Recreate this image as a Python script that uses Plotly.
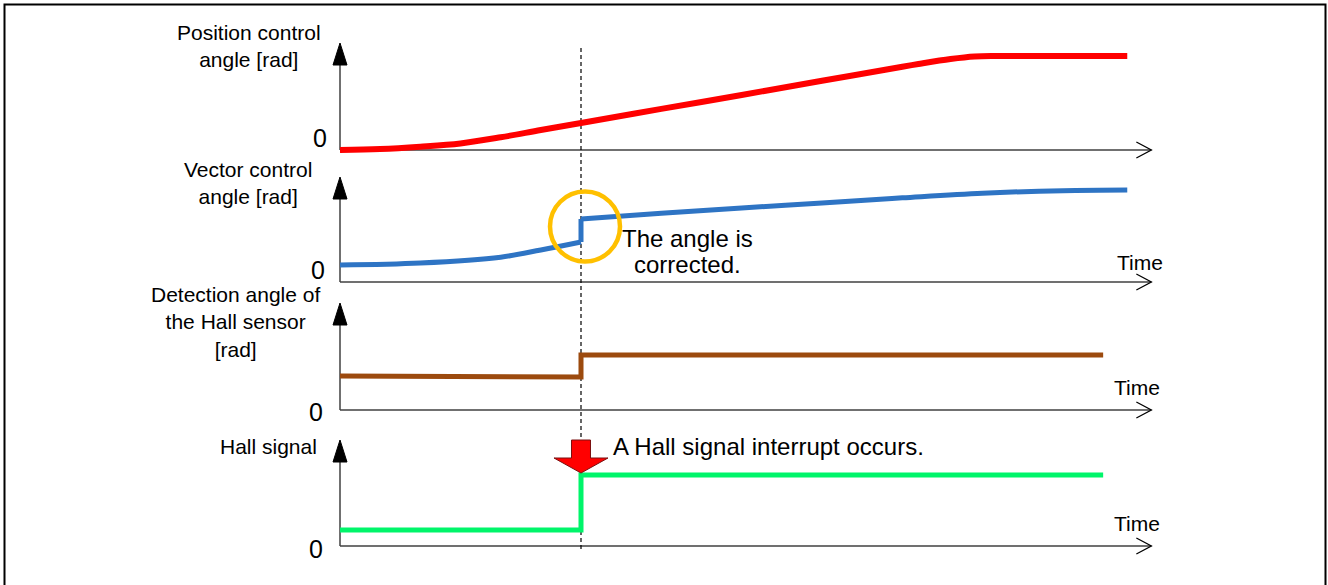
import plotly.graph_objects as go

# ---------------- data ----------------
# Position control angle (normalised to its final value)
time_pos = [0, 0.5, 1, 1.5, 2, 2.5, 3, 4, 5, 6, 7, 7.2, 7.6, 7.9, 8.2, 9.8]
angle_pos = [0, 0.01, 0.035, 0.07, 0.135, 0.212, 0.287, 0.437, 0.586, 0.736, 0.886,
             0.915, 0.968, 0.995, 1.0, 1.0]

# Vector control angle: corrected (step) at the Hall interrupt, t = 3
time_vec = [0, 1, 2, 2.5, 3, 3, 4, 5, 6, 7, 8, 9, 9.8]
angle_vec = [0.185, 0.207, 0.27, 0.348, 0.435, 0.685, 0.747, 0.805, 0.86, 0.915, 0.965,
             0.993, 1.0]

# Detection angle of the Hall sensor
time_hall_ang = [0, 3, 3, 9.5]
angle_hall = [0.62, 0.60, 1.0, 1.0]

# Hall signal level
time_hall_sig = [0, 3, 3, 9.5]
hall_signal = [0.225, 0.225, 1.0, 1.0]

event_time = 3.0
axis_end_time = 10.1

# ---------------- layout geometry (pixels) ----------------
W, H = 1328, 585
X0_PX = 340.0          # pixel of t = 0
PX_PER_T = 80.333      # pixels per time unit

# per panel: baseline pixel, pixels per value unit, top of y-axis arrow
panels = [
    dict(base=150, ppu=94, top=43),
    dict(base=282, ppu=92, top=177),
    dict(base=410, ppu=55, top=303),
    dict(base=546, ppu=71, top=440),
]

FONT = "Arial, 'Liberation Sans', sans-serif"
AXIS_COL = "#404040"


def px(x):
    return x / W


def py(y):
    return 1 - y / H


def t_of(xpx):
    return (xpx - X0_PX) / PX_PER_T


fig = go.Figure()


def add_line(t, v, yname, col, w, shape="linear"):
    fig.add_trace(go.Scatter(
        x=t, y=v, mode="lines", yaxis=yname,
        line=dict(color=col, width=w, shape=shape, smoothing=1.0),
        hoverinfo="skip", showlegend=False,
    ))


# smooth position angle
add_line(time_pos, angle_pos, "y", "#FF0000", 6, "spline")

# vector angle: smooth before and after the correction, straight step at the event
j = next(i for i in range(1, len(time_vec)) if time_vec[i] == time_vec[i - 1])
add_line(time_vec[:j], angle_vec[:j], "y2", "#2E74C4", 5, "spline")
add_line(time_vec[j - 1:j + 1], angle_vec[j - 1:j + 1], "y2", "#2E74C4", 5)
add_line(time_vec[j:], angle_vec[j:], "y2", "#2E74C4", 5, "spline")

add_line(time_hall_ang, angle_hall, "y3", "#9C4A0E", 5)
add_line(time_hall_sig, hall_signal, "y4", "#00F56A", 5)

layout_axes = {}
for i, p in enumerate(panels):
    key = "yaxis" if i == 0 else f"yaxis{i + 1}"
    ax = dict(
        range=[-(H - p["base"]) / p["ppu"], p["base"] / p["ppu"]],
        domain=[0, 1], visible=False, fixedrange=True,
    )
    if i > 0:
        ax["overlaying"] = "y"
    layout_axes[key] = ax

shapes = []
annotations = []

# axes with arrows for every panel
for p in panels:
    b, top = p["base"], p["top"]
    # vertical axis
    shapes.append(dict(type="line", xref="paper", yref="paper",
                       x0=px(X0_PX), x1=px(X0_PX), y0=py(b), y1=py(top + 20),
                       line=dict(color=AXIS_COL, width=1.5), layer="below"))
    # filled arrow head on vertical axis
    shapes.append(dict(type="path", xref="paper", yref="paper",
                       path=(f"M {px(X0_PX - 7)} {py(top + 22)} L {px(X0_PX + 7)} {py(top + 22)} "
                             f"L {px(X0_PX)} {py(top)} Z"),
                       fillcolor="black", line=dict(color="black", width=1), layer="below"))
    # horizontal time axis
    end_px = X0_PX + axis_end_time * PX_PER_T
    shapes.append(dict(type="line", xref="paper", yref="paper",
                       x0=px(X0_PX), x1=px(end_px), y0=py(b), y1=py(b),
                       line=dict(color=AXIS_COL, width=1.5), layer="below"))
    # open arrow head on time axis
    shapes.append(dict(type="path", xref="paper", yref="paper",
                       path=(f"M {px(end_px - 15)} {py(b - 8)} L {px(end_px)} {py(b)} "
                             f"L {px(end_px - 15)} {py(b + 8)}"),
                       line=dict(color="black", width=1.3), layer="below"))

# dashed event marker
shapes.append(dict(type="line", xref="x", yref="paper",
                   x0=event_time, x1=event_time, y0=py(48), y1=py(552),
                   line=dict(color="black", width=1.2, dash="4px,3px"), layer="below"))

# highlight circle around the angle correction
cx, cy, r = 585, 226.5, 35
shapes.append(dict(type="circle", xref="paper", yref="paper",
                   x0=px(cx - r), x1=px(cx + r), y0=py(cy + r), y1=py(cy - r),
                   line=dict(color="#FFC000", width=4.5), layer="above"))

# red down arrow marking the Hall interrupt
ax_c = X0_PX + event_time * PX_PER_T
arrow_pts = [(ax_c - 9.5, 440), (ax_c + 9.5, 440), (ax_c + 9.5, 458), (ax_c + 27, 458),
             (ax_c, 473), (ax_c - 27, 458), (ax_c - 9.5, 458)]
path = "M " + " L ".join(f"{px(x)} {py(y)}" for x, y in arrow_pts) + " Z"
shapes.append(dict(type="path", xref="paper", yref="paper", path=path,
                   fillcolor="#FF0000", line=dict(color="#7A1010", width=1), layer="above"))

# outer frame
shapes.append(dict(type="rect", xref="paper", yref="paper",
                   x0=px(4.5), x1=px(1325.5), y0=py(600), y1=py(4.5),
                   line=dict(color="black", width=2), layer="above"))


def note(text, x, y, size, xanchor="center", yanchor="middle", align="center"):
    annotations.append(dict(text=text, xref="paper", yref="paper", x=px(x), y=py(y),
                            xanchor=xanchor, yanchor=yanchor, align=align, showarrow=False,
                            font=dict(family=FONT, size=size, color="black")))


note("Position control<br>angle [rad]", 249, 46.5, 21)
note("Vector control<br>angle [rad]", 248, 183, 21)
note("Detection angle of<br>the Hall sensor<br>[rad]", 235, 321.5, 21)
note("Hall signal", 319, 447, 21, xanchor="right")

for (x, y) in [(320, 138), (318, 270), (316, 412), (316, 549)]:
    note("0", x, y, 25)

for (x, y) in [(1115, 262), (1112, 387), (1112, 523)]:
    note("Time", x, y, 21, xanchor="left")

note("The angle is", 687, 238, 24)
note("corrected.", 687, 265, 24)
note("A Hall signal interrupt occurs.", 611, 446, 24, xanchor="left")

fig.update_layout(
    width=W, height=H,
    margin=dict(l=0, r=0, t=0, b=0),
    paper_bgcolor="white", plot_bgcolor="white",
    xaxis=dict(range=[t_of(0), t_of(W)], domain=[0, 1], visible=False, fixedrange=True),
    shapes=shapes, annotations=annotations,
    showlegend=False,
    **layout_axes,
)

fig.write_html("out.html", config={"displayModeBar": False})
